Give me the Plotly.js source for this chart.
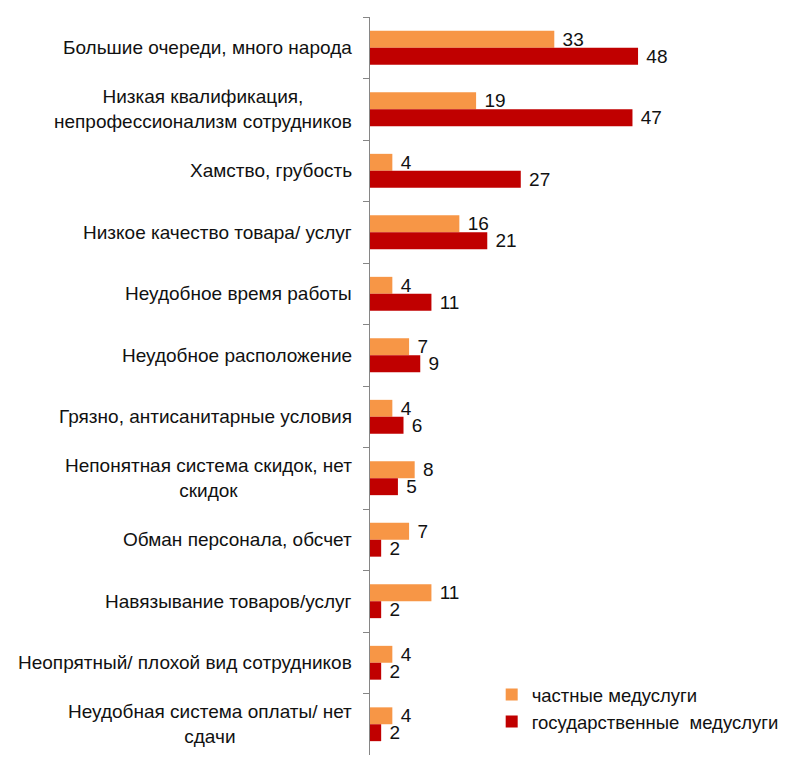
<!DOCTYPE html>
<html><head><meta charset="utf-8">
<script src="https://cdn.plot.ly/plotly-3.0.1.min.js"></script>
<style>html,body{margin:0;padding:0;background:#fff}#chart{width:800px;height:774px}</style>
</head><body><div id="chart"></div>
<script>
const categories = [
  "Большие очереди, много народа",
  "Низкая квалификация,<br>непрофессионализм сотрудников",
  "Хамство, грубость",
  "Низкое качество товара/ услуг",
  "Неудобное время работы",
  "Неудобное расположение",
  "Грязно, антисанитарные условия",
  "Непонятная система скидок, нет<br>скидок",
  "Обман персонала, обсчет",
  "Навязывание товаров/услуг",
  "Неопрятный/ плохой вид сотрудников",
  "Неудобная система оплаты/ нет<br>сдачи"
];
const privateVals = [33, 19, 4, 16, 4, 7, 4, 8, 7, 11, 4, 4];
const stateVals   = [48, 47, 27, 21, 11, 9, 6, 5, 2, 2, 2, 2];
const seriesNames = ["частные медуслуги", "государственные  медуслуги"];

const font = "Liberation Sans, Arial, sans-serif";
const pad = "\u00a0";
function trace(vals, name, color) {
  return {
    type: "bar", orientation: "h", x: vals, y: categories, name: name,
    marker: {color: color},
    text: vals.map(v => pad + v), textposition: "outside",
    textfont: {family: font, size: 19, color: "#111"},
    constraintext: "none", cliponaxis: false, hoverinfo: "none"
  };
}
const data = [
  trace(privateVals, seriesNames[0], "#F79646"),
  trace(stateVals, seriesNames[1], "#C00000")
];
const annotations = categories.map(c => ({
  text: c, xref: "paper", yref: "y", x: 0, y: c, xanchor: "right", xshift: -16,
  align: "center", showarrow: false, font: {family: font, size: 19, color: "#111"}
}));
const layout = {
  width: 800, height: 774,
  margin: {l: 370, r: 0, t: 17, b: 19},
  paper_bgcolor: "#fff", plot_bgcolor: "#fff",
  barmode: "group", bargap: 0.45, bargroupgap: 0,
  font: {family: font, size: 19, color: "#111"},
  xaxis: {range: [0, 77], visible: false, fixedrange: true},
  yaxis: {type: "category", autorange: "reversed", showticklabels: false,
          showline: true, linecolor: "#868686", linewidth: 1,
          ticks: "outside", tickson: "boundaries", ticklen: 6, tickcolor: "#868686",
          showgrid: false, zeroline: false},
  showlegend: true,
  legend: {x: 0.283, xref: "paper", y: 0.107, yanchor: "top", xanchor: "left",
           traceorder: "normal",
           font: {family: font, size: 18.5, color: "#111"}, bgcolor: "rgba(0,0,0,0)"},
  annotations: annotations
};
Plotly.newPlot("chart", data, layout, {displayModeBar: false, staticPlot: true});
</script></body></html>
